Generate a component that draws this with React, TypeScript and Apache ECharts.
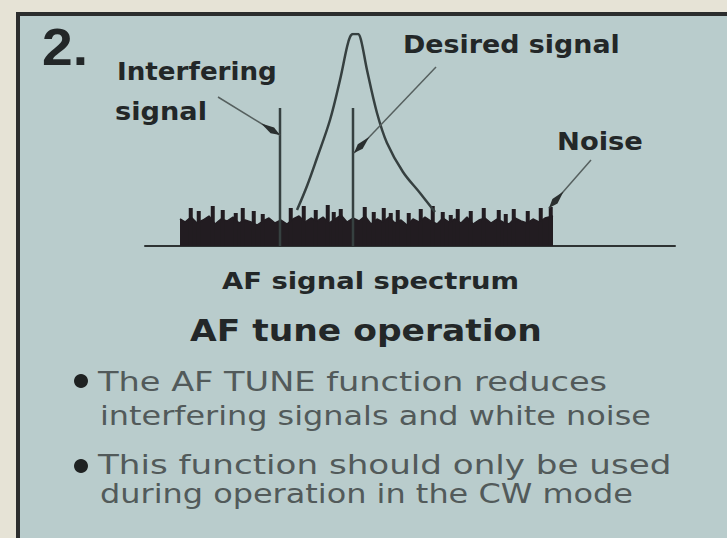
import React, { useEffect, useRef } from "react";
import * as echarts from "echarts";

// ---- data (frequency offset along the AF axis, level above the baseline) ----
const desiredFreq = [152, 162, 172, 185, 195, 202, 205, 208, 213, 216, 222, 232, 242, 258, 275, 290];
const desiredLevel = [36, 60, 88, 126, 166, 199, 209, 212, 212, 206, 176, 133, 103, 74, 53, 34];

const carrierFreq = [135, 208];
const carrierLevel = [138, 138];

const noiseFreq = [35, 40, 46, 52, 58, 64, 70, 76, 82, 88, 94, 100, 106, 112, 118, 124, 130, 136, 142, 148, 154, 160, 166, 172, 178, 184, 190, 196, 202, 208, 214, 220, 226, 232, 238, 244, 250, 256, 262, 268, 274, 280, 286, 292, 298, 304, 310, 316, 322, 328, 334, 340, 346, 352, 358, 364, 370, 376, 382, 388, 394, 400, 408];
const noiseLevel = [27, 24, 29, 23, 26, 30, 22, 27, 25, 29, 23, 26, 24, 21, 25, 28, 23, 26, 22, 27, 30, 24, 28, 25, 29, 23, 27, 31, 24, 28, 25, 30, 22, 27, 24, 29, 23, 26, 21, 27, 24, 29, 25, 22, 28, 24, 27, 23, 29, 22, 26, 28, 23, 27, 24, 22, 28, 25, 23, 27, 24, 28, 30];

const spikeFreq = [45, 53, 67, 77, 90, 97, 108, 117, 145, 158, 170, 182, 188, 195, 219, 228, 238, 245, 252, 263, 275, 287, 297, 305, 312, 325, 338, 353, 360, 368, 382, 395, 405];
const spikeLevel = [38, 35, 40, 36, 33, 38, 35, 32, 38, 40, 36, 41, 34, 37, 39, 34, 38, 33, 36, 33, 37, 40, 34, 31, 37, 35, 38, 36, 32, 37, 35, 38, 39];

// leader lines: [fromFreq, fromLevel, toFreq, toLevel]
const leaderFrom = [[73, 149], [291, 179], [446, 86]];
const leaderTo = [[135, 111], [209, 93], [404, 38]];

const figureNumber = "2.";
const calloutLabels = ["Interfering", "signal", "Desired signal", "Noise"];
const axisTitle = "AF signal spectrum";
const heading = "AF tune operation";
const bulletLines = [
  "The AF TUNE function reduces",
  "interfering signals and white noise",
  "This function should only be used",
  "during operation in the CW mode",
];

const PANEL = "#b9cccc";
const CREAM = "#e6e3d6";
const INK = "#232728";
const NOISE = "#221c21";
const LINE = "#364040";
const GREY = "#525a5a";

function fitScale(text: string, font: string, target: number): number {
  const c = document.createElement("canvas").getContext("2d");
  if (!c) return 1;
  c.font = font;
  const w = c.measureText(text).width;
  return w > 0 ? target / w : 1;
}

export default function App() {
  const ref = useRef<HTMLDivElement>(null);

  useEffect(() => {
    if (!ref.current) return;
    const chart = echarts.init(ref.current, undefined, { renderer: "svg" });

    const mkText = (text: string, x: number, y: number, w: number, size: number, weight: string, family: string, color: string) => {
      const font = `${weight} ${size}px "${family}"`;
      return {
        type: "text",
        x,
        y,
        scaleX: fitScale(text, font, w),
        z: 10,
        style: {
          text,
          fontSize: size,
          fontWeight: weight,
          fontFamily: family,
          fill: color,
          align: "left",
          verticalAlign: "middle",
          textAlign: "left",
          textVerticalAlign: "middle",
        },
      };
    };

    const bold = "DejaVu Sans";
    const graphic: any[] = [
      { type: "rect", shape: { x: 0, y: 0, width: 727, height: 12 }, style: { fill: CREAM }, z: 0 },
      { type: "rect", shape: { x: 0, y: 0, width: 16, height: 538 }, style: { fill: CREAM }, z: 0 },
      { type: "line", shape: { x1: 16, y1: 14, x2: 727, y2: 14 }, style: { stroke: "#2b2d2d", lineWidth: 4 }, z: 1 },
      { type: "line", shape: { x1: 18, y1: 12, x2: 18, y2: 538 }, style: { stroke: "#2b2d2d", lineWidth: 4 }, z: 1 },
      mkText(figureNumber, 42, 47, 46, 52, "bold", "Liberation Sans", INK),
      mkText(calloutLabels[0], 117, 71, 160, 25, "bold", bold, INK),
      mkText(calloutLabels[1], 115, 111, 92, 25, "bold", bold, INK),
      mkText(calloutLabels[2], 403, 44, 217, 25, "bold", bold, INK),
      mkText(calloutLabels[3], 557, 141, 86, 25, "bold", bold, INK),
      mkText(axisTitle, 222, 281, 297, 23, "bold", bold, INK),
      mkText(heading, 190, 331, 352, 30, "bold", bold, INK),
      { type: "circle", shape: { cx: 81, cy: 381, r: 7 }, style: { fill: "#1f2222" }, z: 10 },
      { type: "circle", shape: { cx: 81, cy: 466, r: 7 }, style: { fill: "#1f2222" }, z: 10 },
      mkText(bulletLines[0], 98, 382, 509, 27, "normal", "DejaVu Sans", GREY),
      mkText(bulletLines[1], 100, 416, 551, 27, "normal", "DejaVu Sans", GREY),
      mkText(bulletLines[2], 98, 464, 574, 27, "normal", "DejaVu Sans", GREY),
      mkText(bulletLines[3], 100, 494, 533, 27, "normal", "DejaVu Sans", GREY),
    ];

    const zip = (a: number[], b: number[]) => a.map((v, i) => [v, b[i]]);
    const leaders = leaderFrom.map((f, i) => [f[0], f[1], leaderTo[i][0], leaderTo[i][1]]);

    chart.setOption({
      animation: false,
      backgroundColor: "transparent",
      grid: { left: 145, top: 34, width: 530, height: 212, containLabel: false },
      xAxis: {
        type: "value",
        min: 0,
        max: 530,
        axisLine: { show: true, onZero: false, lineStyle: { color: "#2e3333", width: 2 } },
        axisTick: { show: false },
        axisLabel: { show: false },
        splitLine: { show: false },
      },
      yAxis: { type: "value", min: 0, max: 212, show: false },
      graphic,
      series: [
        {
          type: "line",
          data: zip(noiseFreq, noiseLevel),
          symbol: "none",
          lineStyle: { width: 1.5, color: NOISE },
          areaStyle: { color: NOISE, opacity: 1 },
          z: 3,
        },
        {
          type: "bar",
          data: zip(spikeFreq, spikeLevel),
          barWidth: 4,
          itemStyle: { color: NOISE },
          z: 3,
        },
        {
          type: "bar",
          data: zip(carrierFreq, carrierLevel),
          barWidth: 2.5,
          barGap: "-100%",
          itemStyle: { color: LINE },
          z: 4,
        },
        {
          type: "line",
          data: zip(desiredFreq, desiredLevel),
          smooth: 0.35,
          symbol: "none",
          lineStyle: { width: 2.5, color: LINE },
          z: 5,
        },
        {
          type: "custom",
          coordinateSystem: "cartesian2d",
          data: leaders,
          encode: { x: [0, 2], y: [1, 3] },
          z: 6,
          renderItem: (_p: any, api: any) => {
            const p1 = api.coord([api.value(0), api.value(1)]);
            const p2 = api.coord([api.value(2), api.value(3)]);
            const dx = p2[0] - p1[0];
            const dy = p2[1] - p1[1];
            const L = Math.hypot(dx, dy) || 1;
            const ux = dx / L, uy = dy / L;
            const nx = -uy, ny = ux;
            const b = (d: number, s: number) => [p2[0] - ux * d + nx * s, p2[1] - uy * d + ny * s];
            return {
              type: "group",
              children: [
                { type: "line", shape: { x1: p1[0], y1: p1[1], x2: p2[0], y2: p2[1] }, style: { stroke: "#56605f", lineWidth: 1.5 } },
                { type: "polygon", shape: { points: [p2, b(9, 3.4), b(22, 0), b(9, -3.4)] }, style: { fill: "#2a2f2f" } },
              ],
            };
          },
        },
      ],
    });

    return () => chart.dispose();
  }, []);

  return (
    <div
      ref={ref}
      style={{ position: "absolute", left: 0, top: 0, width: 727, height: 538, background: PANEL }}
    />
  );
}
